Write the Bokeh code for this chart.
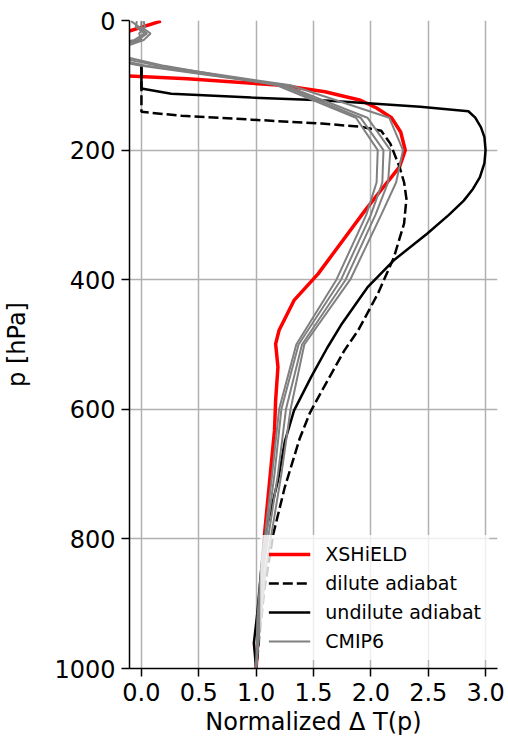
from bokeh.plotting import figure
from bokeh.models import Range1d, FixedTicker, NumeralTickFormatter, Legend, LegendItem
from bokeh.embed import file_html
from bokeh.resources import INLINE

# ---- data (x = normalized dT, p = pressure hPa) ----
red_x = [0.17, -0.8, -0.8, 0.4, 1.22, 1.6, 1.91, 2.05, 2.18, 2.26, 2.30, 2.25, 2.11, 1.95, 1.82,
         1.54, 1.33, 1.20, 1.17, 1.19, 1.17, 1.16, 1.07, 1.0]
red_p = [1, 55, 80, 90, 100, 110, 123, 135, 150, 172, 200, 226, 257, 293, 324,
         391, 432, 478, 499, 535, 586, 633, 798, 1000]

dil_x = [0.0, 0.0, 0.35, 0.96, 1.57, 1.91, 2.09, 2.17, 2.25, 2.29, 2.31, 2.29, 2.2, 2.06,
         1.89, 1.77, 1.59, 1.47, 1.38, 1.25, 1.15, 1.07, 1.0]
dil_p = [72, 141, 147, 153, 159, 164, 170, 190, 226, 250, 275, 313, 366, 422,
         478, 509, 566, 605, 645, 720, 792, 880, 1000]

und_x = [0.0, 0.0, 0.26, 0.96, 1.57, 1.91, 2.43, 2.85, 2.91, 2.96, 2.99, 3.0, 2.99, 2.95,
         2.89, 2.81, 2.68, 2.49, 2.2, 1.97, 1.89, 1.74, 1.62, 1.48, 1.33, 1.25, 1.19, 1.07,
         1.01, 0.98, 1.0]
und_p = [69, 105, 113, 119, 123, 127, 133, 140, 150, 165, 180, 200, 220, 242,
         260, 278, 300, 329, 370, 412, 432, 470, 505, 550, 602, 650, 710, 798,
         915, 961, 1000]

cmip_p = [1, 10, 20, 30, 50, 70, 100, 150, 200, 250, 300, 400, 500, 600, 700, 850, 925, 1000]
cmip_a = [-0.09, -0.02, 0.05, -0.03, -0.4, 0.15, 1.30, 2.16, 2.28, 2.22, 2.09, 1.82, 1.42, 1.30, 1.22, 1.08, 1.04, 1.0]
cmip_b = [0.02, 0.03, -0.02, 0.0, -0.5, 0.05, 1.25, 1.97, 2.17, 2.15, 2.04, 1.78, 1.40, 1.26, 1.19, 1.06, 1.03, 1.0]
cmip_c = [-0.04, -0.05, 0.03, -0.06, -0.6, 0.0, 1.22, 1.91, 2.11, 2.10, 2.00, 1.74, 1.37, 1.22, 1.16, 1.05, 1.02, 1.0]
cmip_d = [0.0, 0.0, 0.08, 0.02, -0.3, 0.2, 1.18, 1.87, 2.06, 2.05, 1.96, 1.70, 1.35, 1.20, 1.14, 1.04, 1.01, 1.0]
cmip_runs = [cmip_a, cmip_b, cmip_c, cmip_d]

x_ticks = [0.0, 0.5, 1.0, 1.5, 2.0, 2.5, 3.0]
y_ticks = [0, 200, 400, 600, 800, 1000]

FONT = "DejaVu Sans"

p = figure(width=508, height=743, output_backend="svg", toolbar_location=None,
           x_range=Range1d(-0.104, 3.104), y_range=Range1d(1000, 0),
           min_border_left=128, min_border_right=11, min_border_top=20, min_border_bottom=75)
p.outline_line_color = None
p.background_fill_color = "white"
p.border_fill_color = "white"

for ax in (p.xaxis[0], p.yaxis[0]):
    ax.major_label_text_font = FONT
    ax.major_label_text_font_size = "24px"
    ax.major_label_text_color = "black"
    ax.axis_label_text_font = FONT
    ax.axis_label_text_font_size = "24px"
    ax.axis_label_text_font_style = "normal"
    ax.axis_label_text_color = "black"
    ax.axis_line_width = 1.5
    ax.axis_line_color = "black"
    ax.major_tick_line_color = "black"
    ax.major_tick_line_width = 1.5
    ax.major_tick_out = 8
    ax.major_tick_in = 0
    ax.minor_tick_line_color = None

p.xaxis.ticker = FixedTicker(ticks=x_ticks)
p.yaxis.ticker = FixedTicker(ticks=y_ticks)
p.xaxis.formatter = NumeralTickFormatter(format="0.0")
p.xaxis.axis_label = "Normalized Δ T(p)"
p.yaxis.axis_label = "p [hPa]"
p.xaxis.major_label_standoff = 6
p.yaxis.major_label_standoff = 6
p.xaxis.axis_label_standoff = 4
p.yaxis.axis_label_standoff = 20

p.grid.grid_line_color = "#b0b0b0"
p.grid.grid_line_width = 1.5

r_red = p.line(red_x, red_p, line_color="#ff0000", line_width=3.5)
r_dil = p.line(dil_x, dil_p, line_color="black", line_width=2.5, line_dash="10 4")
r_und = p.line(und_x, und_p, line_color="black", line_width=2.5)
r_cmip = []
for run in cmip_runs:
    r_cmip.append(p.line(run, cmip_p, line_color="#808080", line_width=2))

legend = Legend(items=[
    LegendItem(label="XSHiELD", renderers=[r_red]),
    LegendItem(label="dilute adiabat", renderers=[r_dil]),
    LegendItem(label="undilute adiabat", renderers=[r_und]),
    LegendItem(label="CMIP6", renderers=[r_cmip[0]]),
], location="bottom_right")
legend.label_text_font = FONT
legend.label_text_font_size = "19px"
legend.label_text_color = "black"
legend.glyph_width = 42
legend.label_standoff = 15
legend.spacing = 7
legend.padding = 8
legend.margin = 8
legend.background_fill_alpha = 0.8
legend.border_line_alpha = 0
p.add_layout(legend)

open("out.html", "w").write(file_html(p, INLINE))
